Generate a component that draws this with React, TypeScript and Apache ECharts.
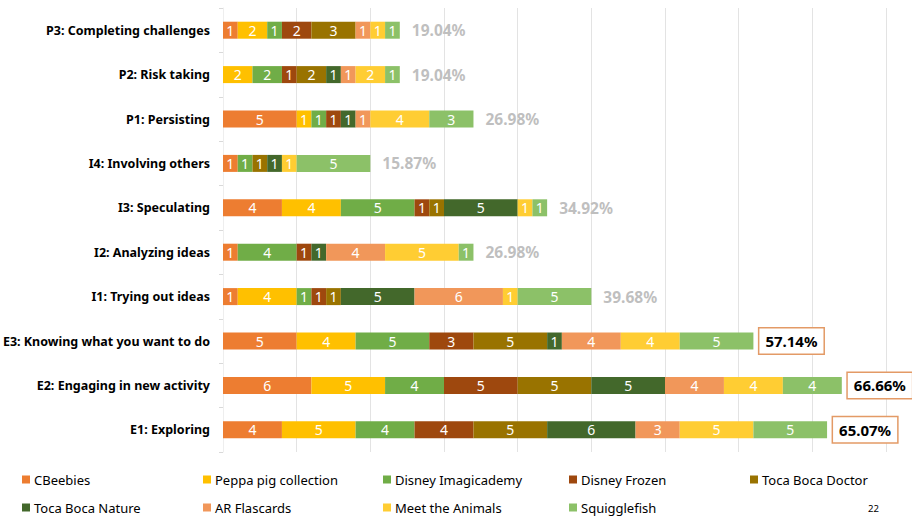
import React, { useEffect, useRef } from "react";
import * as echarts from "echarts";

const categories = [
  "P3: Completing challenges",
  "P2: Risk taking",
  "P1: Persisting",
  "I4: Involving others",
  "I3: Speculating",
  "I2: Analyzing ideas",
  "I1: Trying out ideas",
  "E3: Knowing what you want to do",
  "E2: Engaging in new activity",
  "E1: Exploring",
];

const seriesNames = [
  "CBeebies",
  "Peppa pig collection",
  "Disney Imagicademy",
  "Disney Frozen",
  "Toca Boca Doctor",
  "Toca Boca Nature",
  "AR Flascards",
  "Meet the Animals",
  "Squigglefish",
];

const cbeebies = [1, 0, 5, 1, 4, 1, 1, 5, 6, 4];
const peppa = [2, 2, 1, 0, 4, 0, 4, 4, 5, 5];
const imagicademy = [1, 2, 1, 1, 5, 4, 1, 5, 4, 4];
const frozen = [2, 1, 1, 0, 1, 1, 1, 3, 5, 4];
const tocaDoctor = [3, 2, 0, 1, 1, 0, 1, 5, 5, 5];
const tocaNature = [0, 1, 1, 1, 5, 1, 5, 1, 5, 6];
const arFlashcards = [1, 1, 1, 0, 0, 4, 6, 4, 4, 3];
const meetAnimals = [1, 2, 4, 1, 1, 5, 1, 4, 4, 5];
const squigglefish = [1, 1, 3, 5, 1, 1, 5, 5, 4, 5];

const percentLabels = [
  "19.04%",
  "19.04%",
  "26.98%",
  "15.87%",
  "34.92%",
  "26.98%",
  "39.68%",
  "57.14%",
  "66.66%",
  "65.07%",
];
const boxedRows = [false, false, false, false, false, false, false, true, true, true];

const seriesValues = [
  cbeebies,
  peppa,
  imagicademy,
  frozen,
  tocaDoctor,
  tocaNature,
  arFlashcards,
  meetAnimals,
  squigglefish,
];

const colors = [
  "#ED7D31",
  "#FFC000",
  "#70AD47",
  "#9E480E",
  "#997300",
  "#43682B",
  "#F1975A",
  "#FFCD33",
  "#8CC168",
];

// legend layout: 5 columns, 2 rows
const legendCols = [17, 198, 378, 564, 745];
const legendRows = [468, 496];

const FONT = "'Noto Sans', sans-serif";

export default function App() {
  const ref = useRef<HTMLDivElement>(null);

  useEffect(() => {
    if (!ref.current) return;
    const chart = echarts.init(ref.current, undefined, { renderer: "svg" });

    const barSeries = seriesNames.map((name, i) => ({
      name,
      type: "bar",
      stack: "total",
      barWidth: 17,
      itemStyle: { color: colors[i] },
      label: {
        show: true,
        position: "inside",
        color: "#ffffff",
        fontSize: 14,
        fontFamily: FONT,
        formatter: (p: any) => (p.value ? String(p.value) : ""),
      },
      emphasis: { disabled: true },
      data: seriesValues[i],
    }));

    const totalSeries = {
      name: "Total",
      type: "bar",
      stack: "total",
      barWidth: 17,
      itemStyle: { color: "transparent" },
      emphasis: { disabled: true },
      data: percentLabels.map((txt, i) =>
        boxedRows[i]
          ? {
              value: 0,
              label: {
                show: true,
                position: "right",
                distance: 6,
                formatter: txt,
                color: "#000000",
                fontWeight: "bold",
                fontSize: 15,
                fontFamily: FONT,
                backgroundColor: "#ffffff",
                borderColor: "#E39A66",
                borderWidth: 1.5,
                padding: [6, 6, 4, 6],
              },
            }
          : {
              value: 0,
              label: {
                show: true,
                position: "right",
                distance: 12,
                formatter: txt,
                color: "#BFBFBF",
                fontWeight: "bold",
                fontSize: 15.5,
                fontFamily: FONT,
              },
            }
      ),
    };

    const legends = seriesNames.map((name, i) => ({
      data: [name],
      left: legendCols[i % 5],
      top: legendRows[Math.floor(i / 5)],
      icon: "rect",
      itemWidth: 8,
      itemHeight: 8,
      itemGap: 4,
      orient: "horizontal",
      selectedMode: false,
      textStyle: {
        color: "#000000",
        fontSize: 13,
        fontFamily: FONT,
        padding: [0, 0, 0, -1],
      },
    }));

    chart.setOption({
      animation: false,
      backgroundColor: "#ffffff",
      grid: {
        left: 223,
        right: 26,
        top: 8,
        bottom: 65,
        containLabel: false,
        outerBoundsMode: "none",
      },
      xAxis: {
        type: "value",
        min: 0,
        max: 45,
        interval: 5,
        axisLabel: { show: false },
        axisLine: { show: false },
        axisTick: { show: false },
        splitLine: { show: true, lineStyle: { color: "#E3E3E3", width: 1 } },
      },
      yAxis: {
        type: "category",
        data: categories,
        inverse: true,
        axisLine: { show: true, lineStyle: { color: "#EEEEEE" } },
        axisTick: { show: true, length: 4, lineStyle: { color: "#D9D9D9" } },
        axisLabel: {
          color: "#000000",
          fontSize: 12.5,
          fontFamily: FONT,
          fontWeight: "bold",
          margin: 13,
        },
      },
      legend: legends,
      graphic: [
        {
          type: "text",
          left: 868,
          top: 503,
          style: { text: "22", fontSize: 9.5, fill: "#000000", fontFamily: FONT },
        },
      ],
      series: [...barSeries, totalSeries],
    });

    return () => chart.dispose();
  }, []);

  return (
    <div
      ref={ref}
      style={{ position: "absolute", left: 0, top: 0, width: 912, height: 517 }}
    />
  );
}
